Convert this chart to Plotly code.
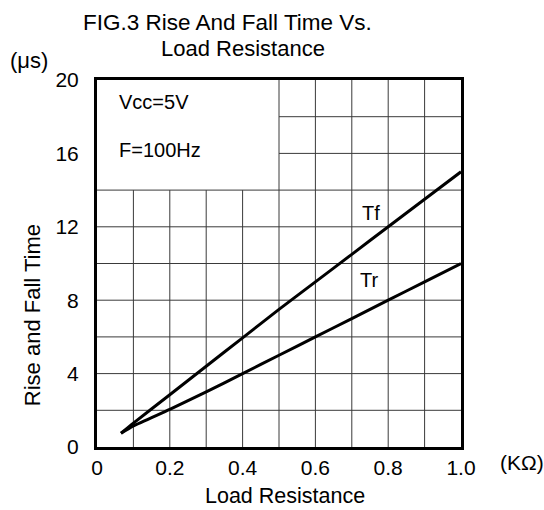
import plotly.graph_objects as go

# Data
load_resistance = [0.066, 0.1, 0.2, 0.3, 0.4, 0.5, 0.6, 0.7, 0.8, 0.9, 1.0]
tf_values = [0.75, 1.3, 2.85, 4.4, 5.95, 7.5, 9.0, 10.5, 12.0, 13.5, 15.0]
tr_values = [0.75, 1.15, 2.05, 3.0, 4.0, 5.0, 6.0, 7.0, 8.0, 9.0, 10.0]

x_tick_vals = [0, 0.2, 0.4, 0.6, 0.8, 1.0]
x_tick_text = ["0", "0.2", "0.4", "0.6", "0.8", "1.0"]
y_tick_vals = [0, 4, 8, 12, 16, 20]
y_tick_text = ["0", "4", "8", "12", "16", "20"]

grid_x = [0.1, 0.2, 0.3, 0.4, 0.5, 0.6, 0.7, 0.8, 0.9]
grid_y = [2, 4, 6, 8, 10, 12, 14, 16, 18]
# text box in upper-left corner (no grid inside)
box_x_max = 0.5
box_y_min = 14

FONT = "Liberation Sans, Arial, sans-serif"

fig = go.Figure()

fig.add_trace(go.Scatter(x=load_resistance, y=tf_values, mode="lines",
                         line=dict(color="black", width=3, shape="spline", smoothing=0.6),
                         name="Tf", showlegend=False))
fig.add_trace(go.Scatter(x=load_resistance, y=tr_values, mode="lines",
                         line=dict(color="black", width=3, shape="spline", smoothing=0.6),
                         name="Tr", showlegend=False))

shapes = []
grid_line = dict(color="#3a3a3a", width=1)
for gx in grid_x:
    top = 20 if gx >= box_x_max else box_y_min
    shapes.append(dict(type="line", xref="x", yref="y", x0=gx, x1=gx, y0=0, y1=top,
                       line=grid_line, layer="below"))
for gy in grid_y:
    left = box_x_max if gy > box_y_min else 0
    shapes.append(dict(type="line", xref="x", yref="y", x0=left, x1=1, y0=gy, y1=gy,
                       line=grid_line, layer="below"))

annotations = [
    dict(text="FIG.3 Rise And Fall Time Vs.", xref="paper", yref="paper",
         x=(228 - 97) / 365, y=(447 - 22) / 367, showarrow=False,
         font=dict(size=22.5, family=FONT, color="black"), xanchor="center", yanchor="middle"),
    dict(text="Load Resistance", xref="paper", yref="paper",
         x=(243 - 97) / 365, y=(447 - 48) / 367, showarrow=False,
         font=dict(size=22, family=FONT, color="black"), xanchor="center", yanchor="middle"),
    dict(text="(μs)", xref="paper", yref="paper",
         x=(8 - 97) / 365, y=(447 - 60) / 367, showarrow=False,
         font=dict(size=22, family=FONT, color="black"), xanchor="left", yanchor="middle"),
    dict(text="(KΩ)", xref="paper", yref="paper",
         x=(499 - 97) / 365, y=(447 - 462) / 367, showarrow=False,
         font=dict(size=21, family=FONT, color="black"), xanchor="left", yanchor="middle"),
    dict(text="Load Resistance", xref="paper", yref="paper",
         x=(286 - 97) / 365, y=(447 - 496) / 367, showarrow=False,
         font=dict(size=21.5, family=FONT, color="black"), xanchor="center", yanchor="middle"),
    dict(text="Rise and Fall Time", xref="paper", yref="paper",
         x=(32 - 97) / 365, y=(447 - 315) / 367, showarrow=False, textangle=-90,
         font=dict(size=22, family=FONT, color="black"), xanchor="center", yanchor="middle"),
    dict(text="Vcc=5V", xref="x", yref="y", x=0.055, y=18.8, showarrow=False,
         font=dict(size=20, family=FONT, color="black"), xanchor="left", yanchor="middle"),
    dict(text="F=100Hz", xref="x", yref="y", x=0.055, y=16.2, showarrow=False,
         font=dict(size=20, family=FONT, color="black"), xanchor="left", yanchor="middle"),
    dict(text="Tf", xref="x", yref="y", x=0.753, y=12.75, showarrow=False,
         font=dict(size=20, family=FONT, color="black"), xanchor="center", yanchor="middle"),
    dict(text="Tr", xref="x", yref="y", x=0.746, y=9.1, showarrow=False,
         font=dict(size=20, family=FONT, color="black"), xanchor="center", yanchor="middle"),
]

fig.update_layout(
    width=544, height=510,
    margin=dict(l=97, r=83, t=80, b=63),
    paper_bgcolor="white", plot_bgcolor="white",
    font=dict(family=FONT, size=21, color="black"),
    shapes=shapes, annotations=annotations, showlegend=False,
)
fig.update_xaxes(range=[0, 1], showgrid=False, zeroline=False,
                 showline=True, linecolor="black", linewidth=3, mirror=True,
                 tickvals=x_tick_vals, ticktext=x_tick_text, ticks="",
                 ticklabelstandoff=0, tickfont=dict(size=21, family=FONT))
fig.update_yaxes(range=[0, 20], showgrid=False, zeroline=False,
                 showline=True, linecolor="black", linewidth=3, mirror=True,
                 tickvals=y_tick_vals, ticktext=y_tick_text, ticks="",
                 ticklabelstandoff=11, tickfont=dict(size=21, family=FONT))

fig.write_html("out.html", config={"displayModeBar": False},
               post_script="document.body.style.margin='0';document.body.style.padding='0';")
